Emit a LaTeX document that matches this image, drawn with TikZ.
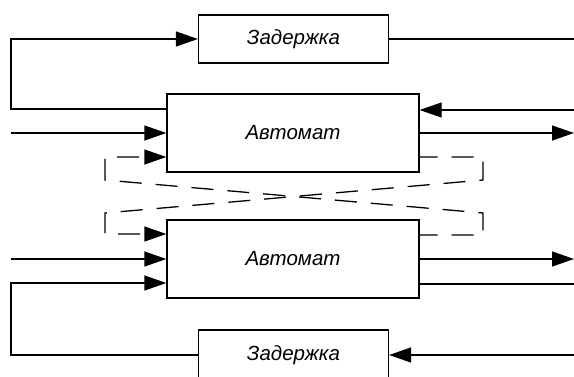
\documentclass[tikz,border=0pt]{standalone}
\usepackage{fontspec}
\setmainfont{Liberation Sans}
\usetikzlibrary{arrows.meta}
\begin{document}
\begin{tikzpicture}[x=1pt, y=-1pt, line width=1.3pt, >={Triangle[length=22pt,width=15pt]}]
\useasboundingbox (0,0) rectangle (574,376);
\tikzstyle{block}=[draw, rectangle, inner sep=0pt, minimum width=252pt, minimum height=78pt, font=\fontsize{20.5}{24}\selectfont\itshape]
\tikzstyle{delay}=[block, minimum width=190pt, minimum height=48pt]
\tikzstyle{dsh}=[dash pattern=on 22pt off 14pt, dash phase=4pt]
\node[delay] (D1) at (293.5, 39) {Задержка};
\node[block] (A1) at (293, 133) {Автомат};
\node[block] (A2) at (293, 259) {Автомат};
\node[delay, minimum height=50pt] (D2) at (293.5, 355) {Задержка};
% free ends
\coordinate (L1) at (11, 39);
\coordinate (L2) at (11, 283);
\coordinate (in1) at (11, 133);
\coordinate (in2) at (11, 259);
\coordinate (out1) at (574, 39);
\coordinate (fb1) at (574, 110);
\coordinate (out2) at (574, 133);
\coordinate (out3) at (574, 259);
\coordinate (fb2) at (574, 284);
\coordinate (fb3) at (574, 355);
\coordinate (c1) at (483, 180);
\coordinate (c2) at (105, 213);
\coordinate (c3) at (483, 213);
\coordinate (c4) at (105, 180);
\draw [->] ([yshift=24pt]A1.west) -| (L1) -- (D1.west);
\draw [->] (in1) -- (A1.west);
\draw (D1.east) -- (out1);
\draw [->] (fb1) -- (fb1 -| A1.east);
\draw [->] (A1.east) -- (out2);
\draw [->, dsh] ([yshift=-24pt]A1.east) -| (c1) -- (c2) |- ([yshift=25pt]A2.west);
\draw [->, dsh] ([yshift=24pt]A2.east) -| (c3) -- (c4) |- ([yshift=-24pt]A1.west);
\draw [->] (in2) -- (A2.west);
\draw [->] (D2.west) -| (L2) -- ([yshift=-24pt]A2.west);
\draw [->] (A2.east) -- (out3);
\draw ([yshift=-25pt]A2.east) -- (fb2);
\draw [->] (fb3) -- (D2.east);
\end{tikzpicture}
\end{document}
